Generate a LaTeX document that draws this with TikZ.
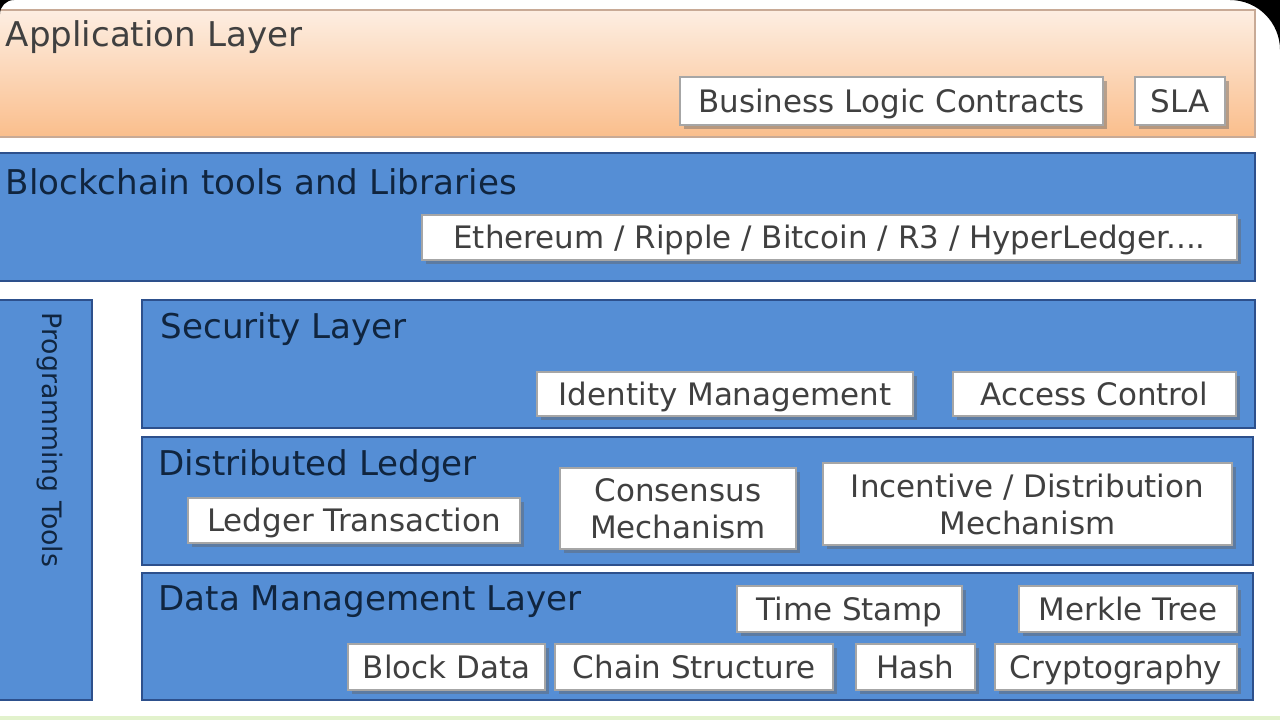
\documentclass[tikz,border=0pt]{standalone}
\usepackage{fontspec}
\setmainfont{DejaVu Sans}
\usetikzlibrary{fit,shadows}

\definecolor{layerblue}{RGB}{85,142,213}
\definecolor{layerline}{RGB}{45,80,140}
\definecolor{titleblue}{RGB}{16,37,63}
\definecolor{apptop}{RGB}{253,238,226}
\definecolor{appbottom}{RGB}{250,190,140}
\definecolor{appline}{RGB}{200,170,150}
\definecolor{boxtext}{RGB}{64,64,64}
\definecolor{edgegreen}{RGB}{226,242,204}

\begin{document}
\begin{tikzpicture}[
            x=0.01cm,
            y=-0.01cm,
            layer/.style={draw=layerline, line width=0.8pt, fill=layerblue, inner sep=0pt},
            applayer/.style={draw=appline, line width=0.6pt, top color=apptop, bottom color=appbottom, inner sep=0pt},
            title/.style={anchor=west, inner sep=0pt, text=titleblue, font=\fontsize{9.7}{11}\selectfont},
            item/.style={draw=gray!70, line width=0.5pt, fill=white, inner sep=0pt, text=boxtext,
              align=center, font=\fontsize{8.8}{10.5}\selectfont,
              drop shadow={shadow xshift=1.2pt, shadow yshift=-1.2pt, opacity=0.45, fill=black!60}},
            single/.style={item, text height=8pt, text depth=1.6pt},
          ]
          \useasboundingbox (0,0) rectangle (1280,720);
          \fill[white] (0,0) rectangle (1280,720);
          \fill[edgegreen] (0,716) rectangle (1280,720);
          % layers
          \node[applayer, fit={(-5,10) (1255,137)}] (app) {};
          \node[layer, fit={(-5,153) (1255,281)}] (tools) {};
          \node[layer, fit={(-5,300) (92,700)}] (prog) {};
          \node[layer, fit={(142,300) (1255,428)}] (security) {};
          \node[layer, fit={(142,437) (1253,565)}] (ledger) {};
          \node[layer, fit={(142,573) (1253,700)}] (data) {};
          % layer titles
          \node[title, text=black!75] (apptitle) at (5,37) {Application Layer};
          \node[title] (toolstitle) at (5,182) {Blockchain tools and Libraries};
          \node[title] (sectitle) at (160,329) {Security Layer};
          \node[title] (ledgertitle) at (158,466) {Distributed Ledger};
          \node[title] (datatitle) at (158,602) {Data Management Layer};
          \node[title, rotate=-90, font=\fontsize{7.6}{9}\selectfont] (progtitle) at (50,312) {Programming Tools};
          % components
          \node[single, minimum width=4.23cm, minimum height=0.48cm] (contracts) at (891.5,101) {Business Logic Contracts};
          \node[single, minimum width=0.90cm, minimum height=0.48cm] (sla) at (1180,101) {SLA};
          \node[single, minimum width=8.15cm, minimum height=0.45cm] (platforms) at (829.5,237.5) {Ethereum / Ripple / Bitcoin / R3 / HyperLedger....};
          \node[single, minimum width=3.76cm, minimum height=0.44cm] (identity) at (725,394) {Identity Management};
          \node[single, minimum width=2.83cm, minimum height=0.44cm] (access) at (1094.5,394) {Access Control};
          \node[single, minimum width=3.32cm, minimum height=0.45cm] (transaction) at (354,520.5) {Ledger Transaction};
          \node[item, minimum width=2.36cm, minimum height=0.81cm] (consensus) at (678,508.5) {Consensus\\Mechanism};
          \node[item, minimum width=4.09cm, minimum height=0.82cm] (incentive) at (1027.5,504) {Incentive / Distribution\\Mechanism};
          \node[single, minimum width=2.25cm, minimum height=0.46cm] (timestamp) at (849.5,609) {Time Stamp};
          \node[single, minimum width=2.18cm, minimum height=0.46cm] (merkle) at (1128,609) {Merkle Tree};
          \node[single, minimum width=1.97cm, minimum height=0.46cm] (blockdata) at (446.5,667) {Block Data};
          \node[single, minimum width=2.78cm, minimum height=0.46cm] (chain) at (694,667) {Chain Structure};
          \node[single, minimum width=1.19cm, minimum height=0.46cm] (hash) at (915.5,667) {Hash};
          \node[single, minimum width=2.42cm, minimum height=0.46cm] (crypto) at (1116,667) {Cryptography};
          % frame corners
          \fill[black] (1280,50) arc (0:-90:50) -- (1280,0) -- cycle;
          \fill[black] (0,14) arc (180:270:14) -- (0,0) -- cycle;
        \end{tikzpicture}
\end{document}
